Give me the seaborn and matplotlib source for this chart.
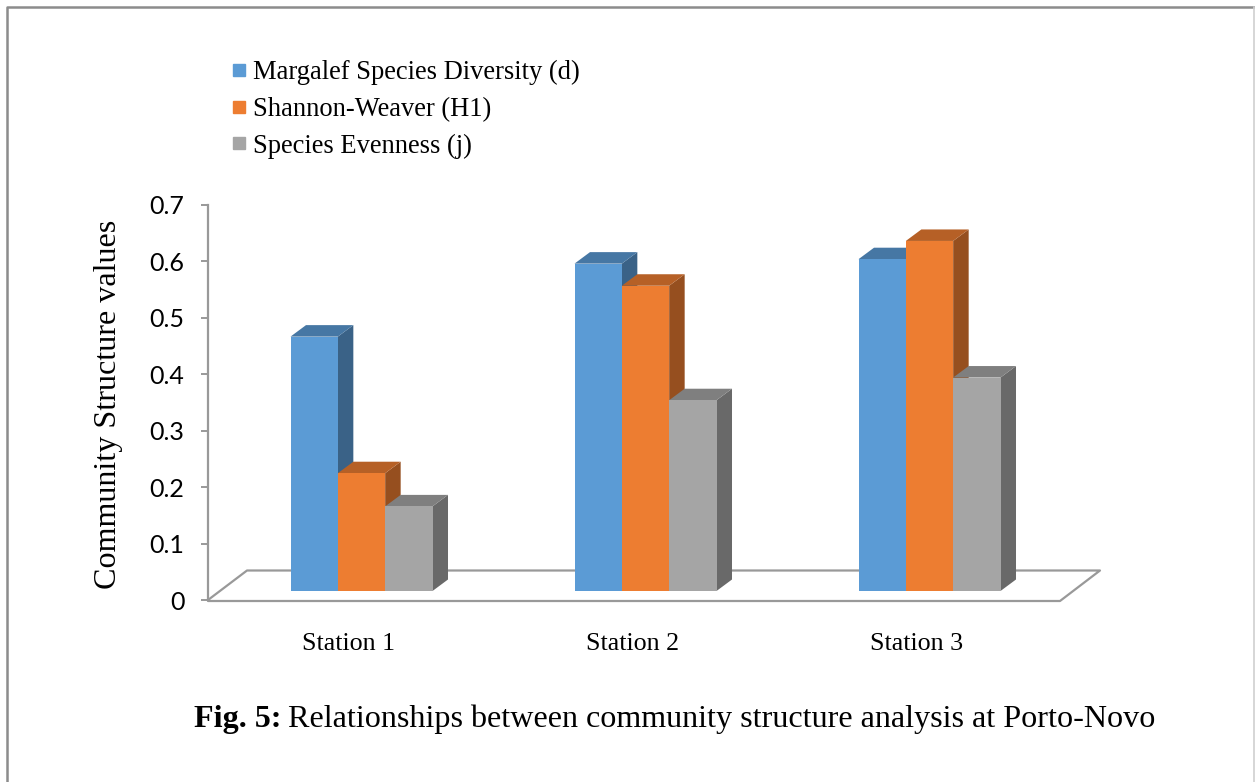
# Community structure indices per station, drawn as Excel-like 3D columns

import matplotlib
matplotlib.use("Agg")
import matplotlib.pyplot as plt
from matplotlib.colors import to_rgb
from matplotlib.lines import Line2D
from matplotlib.patches import Polygon
import pandas as pd
import seaborn as sns

stations = ["Station 1", "Station 2", "Station 3"]
margalef = [0.46, 0.592, 0.60]
shannon = [0.213, 0.552, 0.633]
evenness = [0.153, 0.345, 0.386]
series_names = [
    "Margalef Species Diversity (d)",
    "Shannon-Weaver (H1)",
    "Species Evenness (j)",
]
y_ticks = [0, 0.1, 0.2, 0.3, 0.4, 0.5, 0.6, 0.7]
y_tick_labels = ["0", "0.1", "0.2", "0.3", "0.4", "0.5", "0.6", "0.7"]

colors = ["#5B9BD5", "#ED7D31", "#A5A5A5"]
axis_color = "#999999"
W, H = 1255, 782

df = pd.DataFrame({
    "station": stations * 3,
    "index": [n for n in series_names for _ in stations],
    "value": margalef + shannon + evenness,
})

sns.set_style("white")
plt.rcParams["text.color"] = "black"
fig = plt.figure(figsize=(W / 100, H / 100), dpi=100)


def px_axes(left, top, right, bottom):
    return fig.add_axes([left / W, 1 - bottom / H, (right - left) / W, (bottom - top) / H])


def fig_px(x, y):
    return x / W, 1 - y / H


# value axis on the back corner
ax_scale = px_axes(208, 205, 1060, 600)
ax_scale.set_ylim(0, 0.7)
ax_scale.set_xlim(0, 1)
ax_scale.set_yticks(y_ticks)
ax_scale.set_yticklabels(y_tick_labels, family="Lato", fontsize=18, color="black")
ax_scale.set_xticks([])
ax_scale.tick_params(axis="y", length=5, width=1.4, color=axis_color, pad=12, left=True)
for side in ["top", "right", "bottom"]:
    ax_scale.spines[side].set_visible(False)
ax_scale.spines["left"].set_color(axis_color)
ax_scale.spines["left"].set_linewidth(1.6)

# floor, kept under the columns
floor = [(208, 600), (247, 570.5), (1100, 570.5), (1060, 601), (208, 601)]
ax_scale.add_line(Line2D(*zip(*[fig_px(*p) for p in floor]), color=axis_color, lw=1.6,
                         transform=fig.transFigure, clip_on=False))

# front plane of the columns: 553 px per unit, starting at y=591
ax = px_axes(208, 591 - 0.7 * 553, 1060, 591)
ax.patch.set_alpha(0)
sns.barplot(data=df, x="station", y="value", hue="index", palette=colors,
            width=0.5, saturation=1, linewidth=0, ax=ax, legend=False)
ax.set_xlim(-0.5405, 2.4595)
ax.set_ylim(0, 0.7)
ax.set_xlabel("")
ax.set_ylabel("")
ax.set_yticks([])
ax.set_xticks([])
sns.despine(ax=ax, left=True, bottom=True)

# depth faces built from the bars seaborn drew
dx = 15.5 / 284
dy = 11.5 / 553
z = 3
for patch in list(ax.patches):
    x0, w, h = patch.get_x(), patch.get_width(), patch.get_height()
    rgb = to_rgb(patch.get_facecolor())
    top = [(x0, h), (x0 + w, h), (x0 + w + dx, h + dy), (x0 + dx, h + dy)]
    side = [(x0 + w, 0), (x0 + w + dx, dy), (x0 + w + dx, h + dy), (x0 + w, h)]
    ax.add_patch(Polygon(side, closed=True, fc=[c * 0.635 for c in rgb], ec="none",
                         zorder=z, clip_on=False))
    ax.add_patch(Polygon(top, closed=True, fc=[c * 0.77 for c in rgb], ec="none",
                         zorder=z, clip_on=False))
    z += 1
for patch in ax.patches[:9]:
    patch.set_zorder(z)

# category labels
for name, x in zip(stations, [349, 633, 917]):
    fig.text(*fig_px(x, 644), name, family="Liberation Serif", fontsize=18.7,
             ha="center", va="center")

# legend
handles = [Line2D([], [], ls="", marker="s", ms=9, mfc=c, mec=c) for c in colors]
fig.legend(handles, series_names, loc="upper left", bbox_to_anchor=fig_px(226, 60),
           frameon=False, prop={"family": "Liberation Serif", "size": 19.1},
           labelspacing=0.44, handletextpad=0.02, borderpad=0, borderaxespad=0,
           handlelength=1.0)

fig.text(*fig_px(109, 404), "Community Structure values", family="Liberation Serif",
         fontsize=23.1, rotation=90, ha="center", va="center")

# caption with the bold figure number
fig.text(*fig_px(194, 719), "Fig. 5:", family="Liberation Serif", weight="bold",
         fontsize=23.1, ha="left", va="center")
fig.text(*fig_px(288, 719), "Relationships between community structure analysis at Porto-Novo",
         family="Liberation Serif", fontsize=23.1, ha="left", va="center")

# page frame
fig.add_artist(Line2D(*zip(*[fig_px(7, 782), fig_px(7, 6.5), fig_px(1255, 6.5)]),
                      color="#8c8c8c", lw=1.8))
fig.add_artist(Line2D(*zip(*[fig_px(1254, 6.5), fig_px(1254, 782)]), color="#d0d0d0", lw=1.2))

fig.savefig("out.png", dpi=100)
